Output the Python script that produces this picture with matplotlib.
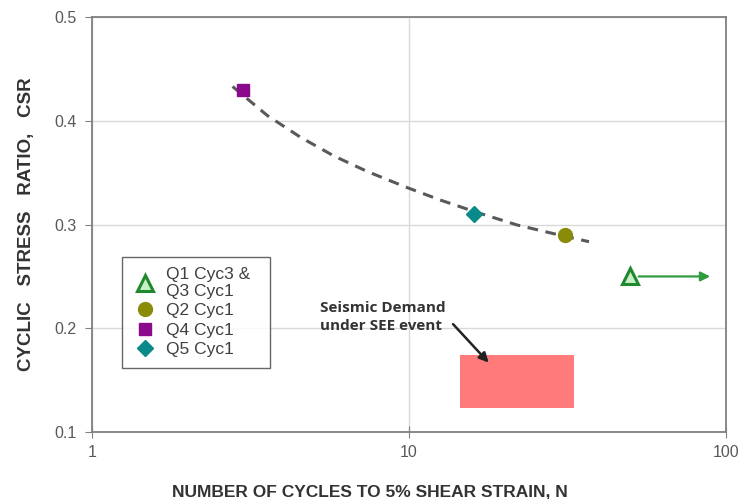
import matplotlib.pyplot as plt
from matplotlib.ticker import FixedLocator, FixedFormatter, NullLocator

plt.rcParams['font.family'] = ['Liberation Sans', 'DejaVu Sans']

# test results (N cycles, CSR)
q1_n, q1_csr = [50], [0.25]
q2_n, q2_csr = [31], [0.29]
q4_n, q4_csr = [3], [0.43]
q5_n, q5_csr = [16], [0.31]

# trend curve
trend_n = [2.78, 3.58, 4.56, 5.81, 7.41, 9.9, 12.6, 16.1, 22.0, 31.7, 37.0]
trend_csr = [0.433, 0.405, 0.384, 0.366, 0.351, 0.3355, 0.3235, 0.3125, 0.2995, 0.288, 0.2835]

# seismic demand box
demand_n = [14.5, 33.2]
demand_csr = [0.123, 0.174]

# arrow for Q1 (no failure)
q1_arrow_n = [52, 91]

xticks = [1, 10, 100]
yticks = [0.1, 0.2, 0.3, 0.4, 0.5]

fig = plt.figure(figsize=(7.4, 4.99), dpi=100)
ax = fig.add_axes([0.124, 0.134, 0.857, 0.832])

ax.set_xscale('log')
ax.set_xlim(1, 100)
ax.set_ylim(0.1, 0.5)

ax.xaxis.set_major_locator(FixedLocator(xticks))
ax.xaxis.set_major_formatter(FixedFormatter([str(t) for t in xticks]))
ax.xaxis.set_minor_locator(NullLocator())
ax.set_yticks(yticks)
ax.set_yticklabels([f'{t:.1f}' for t in yticks])

ax.grid(True, color='#d9d9d9', linewidth=1.0)
ax.set_axisbelow(True)
for s in ax.spines.values():
    s.set_color('#808080')
    s.set_linewidth(1.3)
ax.tick_params(axis='x', direction='inout', length=8, colors='#808080',
               labelcolor='#595959', labelsize=11.5, pad=5)
ax.tick_params(axis='y', direction='out', length=5, colors='#808080',
               labelcolor='#595959', labelsize=11.5, pad=6)

# demand box
ax.fill_between(demand_n, demand_csr[0], demand_csr[1], color='#ff7b7b', linewidth=0, zorder=2)

ax.plot(trend_n, trend_csr, linestyle=(0, (3.5, 2.5)), color='#595959', linewidth=2.2, zorder=3)

ax.annotate('', xy=(q1_arrow_n[1], q1_csr[0]), xytext=(q1_arrow_n[0], q1_csr[0]),
            arrowprops=dict(arrowstyle='-|>', color='#2e9b3e', lw=1.6, mutation_scale=14), zorder=3)

h1, = ax.plot(q1_n, q1_csr, '^', ms=11, mfc='#c8f0c8', mec='#22882e', mew=2.2, zorder=4,
              label='Q1 Cyc3 &  \nQ3 Cyc1')
h2, = ax.plot(q2_n, q2_csr, 'o', ms=10, mfc='#8b8b0a', mec='#8b8b0a', zorder=4, label='Q2 Cyc1')
h4, = ax.plot(q4_n, q4_csr, 's', ms=9, mfc='#8b0a8b', mec='#8b0a8b', zorder=4, label='Q4 Cyc1')
h5, = ax.plot(q5_n, q5_csr, 'D', ms=8, mfc='#0a8a8a', mec='#0a8a8a', zorder=4, label='Q5 Cyc1')

leg = ax.legend(handles=[h1, h2, h4, h5], loc='upper left', bbox_to_anchor=(0.047, 0.422),
                borderaxespad=0, fontsize=12.5, frameon=True, fancybox=False,
                edgecolor='#404040', labelspacing=0.25, handletextpad=0.45,
                borderpad=0.6, handlelength=1.5, labelcolor='#404040')
leg.get_frame().set_linewidth(1.0)
for t in leg.get_texts():
    t.set_linespacing(1.12)

ax.text(5.25, 0.226, 'Seismic Demand\nunder SEE event', fontsize=11, fontweight='bold',
        color='#333333', ha='left', va='top', linespacing=1.3, family=['Open Sans', 'DejaVu Sans'])
ax.annotate('', xy=(18.1, 0.165), xytext=(13.6, 0.206),
            arrowprops=dict(arrowstyle='-|>', color='#222222', lw=1.8, mutation_scale=14), zorder=5)

ax.set_xlabel('NUMBER OF CYCLES TO 5% SHEAR STRAIN, N', fontsize=12.5, fontweight='bold',
              color='#333333', labelpad=15)
ax.xaxis.set_label_coords(0.438, -0.125)
ax.set_ylabel('CYCLIC   STRESS   RATIO,   CSR', fontsize=13.5, fontweight='bold',
              color='#333333', labelpad=14)

fig.savefig('out.png', dpi=100)
